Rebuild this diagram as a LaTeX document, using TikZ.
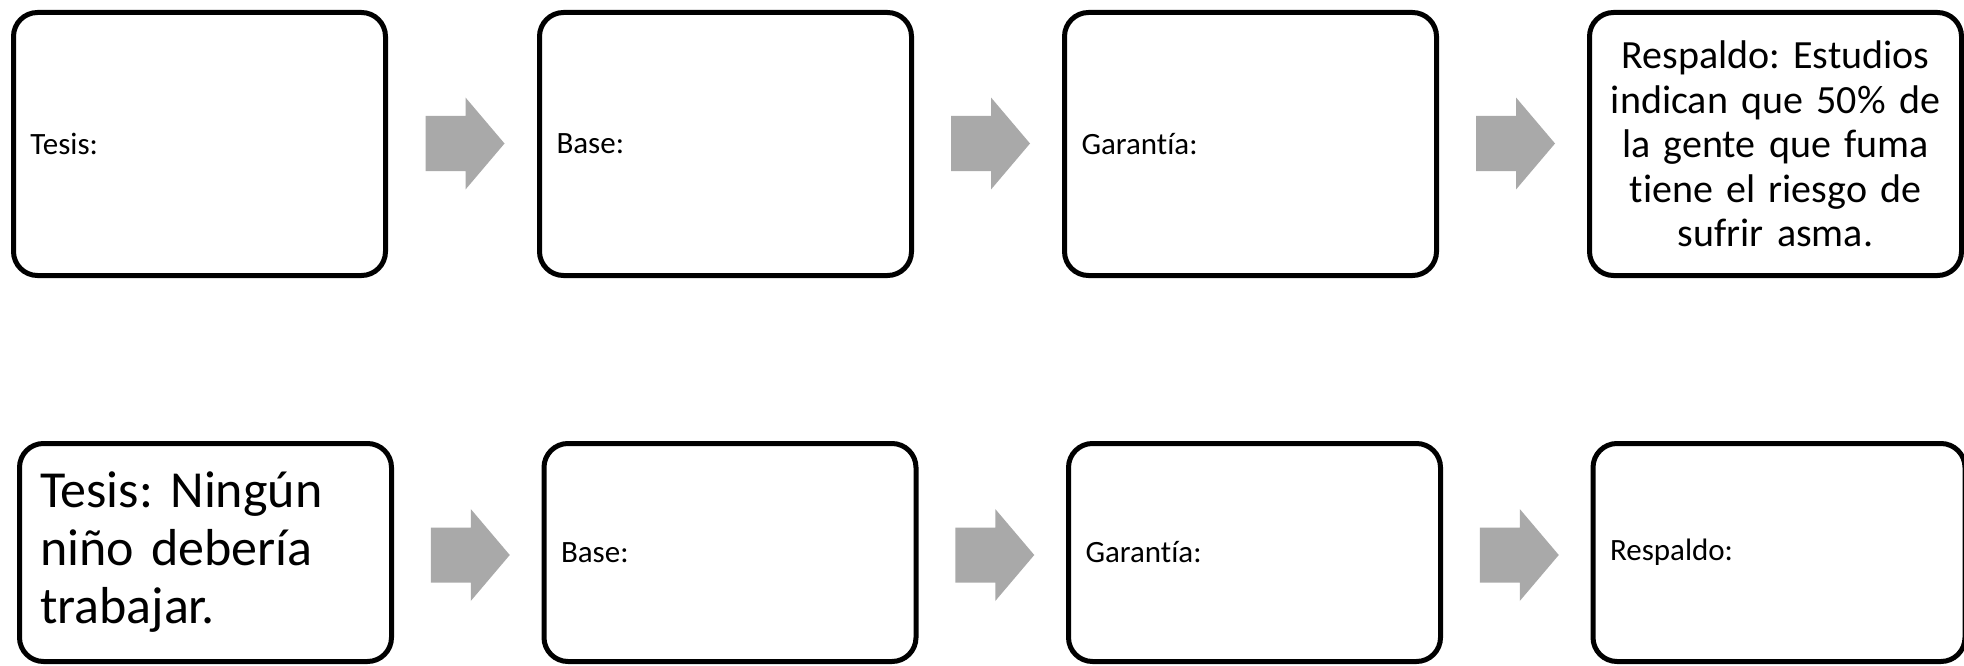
\documentclass[tikz,border=0pt]{standalone}
\usepackage{fontspec}
\setmainfont{Carlito}[Ligatures=NoCommon]
\usetikzlibrary{calc}
\definecolor{arrowgray}{HTML}{A9A9A9}
\frenchspacing
\begin{document}
\begin{tikzpicture}[x=1pt,y=-1pt,
  card/.style={draw=black, line width=5pt, rounded corners=24pt, fill=white,
    inner ysep=0pt, minimum width=372pt},
  tallcard/.style={card, minimum height=263pt},
  shortcard/.style={card, minimum height=218pt},
  lbl/.style={font=\fontsize{31}{37}\selectfont, align=left, text width=338pt, inner xsep=17pt},
  midtext/.style={font=\fontsize{40}{44.5}\selectfont, align=center, text width=352pt, inner xsep=10pt},
  bigtext/.style={font=\fontsize{52}{58}\selectfont, align=left, text width=331pt, inner xsep=20.5pt},
  blockarrow/.style={fill=arrowgray, draw=none}
]
\clip (0,0) rectangle (1964,666);
\fill[white] (0,0) rectangle (1964,666);

% top row
\node[tallcard, lbl] (t1) at (199.5,144) {Tesis:};
\node[tallcard, lbl] (t2) at (725.5,144) {Base:};
\node[tallcard, lbl] (t3) at (1250.5,144) {Garantía:};
\node[tallcard, midtext] (t4) at (1775.5,144) {Respaldo: Estudios\\indican que 50\% de\\la gente que fuma\\tiene el riesgo de\\sufrir asma.};

% bottom row
\node[shortcard, bigtext] (b1) at (205.5,552.5) {Tesis: Ningún\\niño debería\\trabajar.};
\node[shortcard, lbl] (b2) at (730,552.5) {Base:};
\node[shortcard, lbl] (b3) at (1254.5,552.5) {Garantía:};
\node[shortcard, lbl] (b4) at (1779,552.5) {Respaldo:};

% block arrows
\foreach \a/\b in {t1/t2,t2/t3,t3/t4}{
  \coordinate (m\a) at ($(\a.east)!0.5!(\b.west)+(2.5,-0.5)$);
  \fill[blockarrow, shift={(m\a)}] (-39.5,-27.5) -- (0.5,-27.5) -- (0.5,-46) -- (39.5,0)
     -- (0.5,46) -- (0.5,27.5) -- (-39.5,27.5) -- cycle;
}
\foreach \a/\b in {b1/b2,b2/b3,b3/b4}{
  \coordinate (m\a) at ($(\a.east)!0.5!(\b.west)+(2.5,2.5)$);
  \fill[blockarrow, shift={(m\a)}] (-39.5,-27.5) -- (0.5,-27.5) -- (0.5,-46) -- (39.5,0)
     -- (0.5,46) -- (0.5,27.5) -- (-39.5,27.5) -- cycle;
}
\end{tikzpicture}
\end{document}
